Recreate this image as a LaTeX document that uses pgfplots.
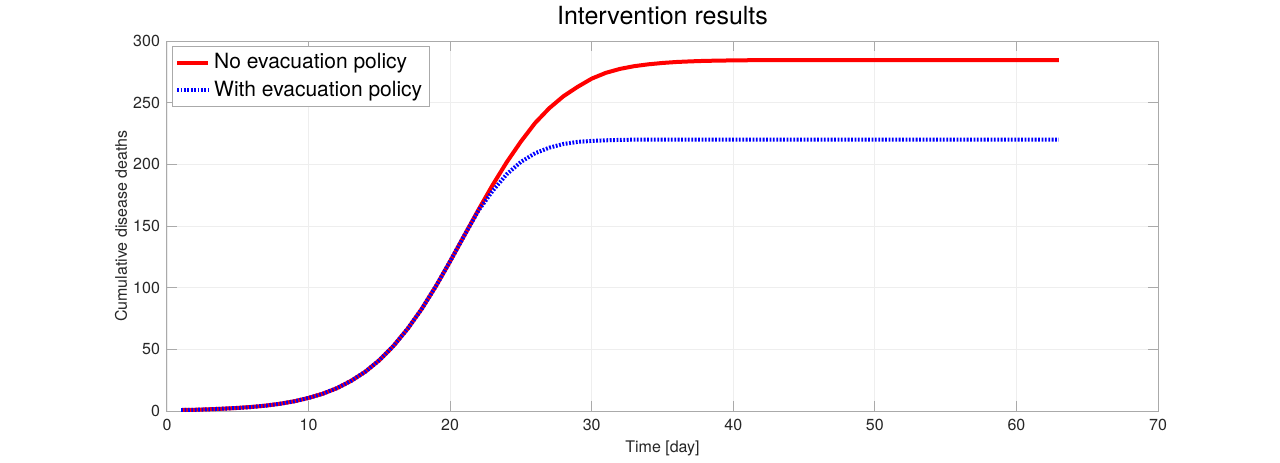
\documentclass[border=0pt]{standalone}
\usepackage{fontspec}
\setmainfont{TeX Gyre Heros}
\usepackage{pgfplots}
\pgfplotsset{compat=1.18}

\definecolor{axgray}{RGB}{170,170,170}
\definecolor{gridgray}{RGB}{238,238,238}
\definecolor{txt}{RGB}{38,38,38}

\begin{document}
\begin{tikzpicture}
\begin{axis}[
    scale only axis,
    width=495.5pt,
    height=185pt,
    at={(0,0)},
    anchor=origin,
    xmin=0, xmax=70,
    ymin=0, ymax=300,
    xtick={0,10,...,70},
    ytick={0,50,...,300},
    grid=major,
    major grid style={gridgray, line width=0.4pt},
    axis line style={axgray, line width=0.5pt},
    tick style={axgray, line width=0.5pt},
    tick align=inside,
    major tick length=5pt,
    /pgf/number format/assume math mode=true,
    tick label style={font=\fontsize{8}{9.6}\selectfont, text=txt},
    xticklabel style={anchor=base, yshift=-9.5pt},
    title={Intervention results},
    title style={font=\fontsize{12.5}{15}\selectfont, at={(axis description cs:0.5,1.0135)}, anchor=base, yshift=0pt},
    xlabel={Time [day]},
    xlabel style={font=\fontsize{8}{9.6}\selectfont, text=txt, at={(axis description cs:0.5,-0.111)}, anchor=base},
    ylabel={Cumulative disease deaths},
    ylabel style={font=\fontsize{8}{9.6}\selectfont, text=txt, at={(axis description cs:-0.0404,0.5)}, anchor=base},
    legend cell align=left,
    legend style={at={(axis description cs:0,1)}, anchor=north west, xshift=2.4pt, yshift=-2.5pt,
        draw=axgray, fill=white, font=\fontsize{10.5}{12.6}\selectfont,
        inner xsep=1.5pt, inner ysep=1.5pt, row sep=0.5pt},
    legend image code/.code={\draw[#1] (0pt,0pt) -- (15.5pt,0pt);},
]
\addplot[red, line width=2pt] coordinates {
(1,0.8) (2,1.0) (3,1.4) (4,1.9) (5,2.5) (6,3.3) (7,4.4) (8,5.9) (9,7.9) (10,10.6)
(11,14.0) (12,18.5) (13,24.4) (14,31.8) (15,41.2) (16,52.8) (17,66.7) (18,82.9) (19,101.3) (20,121.4)
(21,142.3) (22,163.1) (23,183.2) (24,201.8) (25,218.5) (26,233.5) (27,245.5) (28,255.2) (29,262.8) (30,269.5)
(31,274.2) (32,277.4) (33,279.6) (34,281.1) (35,282.2) (36,283.0) (37,283.5) (38,283.9) (39,284.1) (40,284.3)
(41,284.4) (42,284.5) (43,284.5) (44,284.5) (45,284.5) (46,284.5) (47,284.5) (48,284.5) (49,284.5) (50,284.5)
(51,284.5) (52,284.5) (53,284.5) (54,284.5) (55,284.5) (56,284.5) (57,284.5) (58,284.5) (59,284.5) (60,284.5)
(61,284.5) (62,284.5) (63,284.5)
};
\addlegendentry{No evacuation policy}
\addplot[blue, line width=2pt, dash pattern=on 0.9pt off 0.8pt] coordinates {
(1,0.8) (2,1.0) (3,1.4) (4,1.9) (5,2.5) (6,3.3) (7,4.4) (8,5.9) (9,7.9) (10,10.6)
(11,14.0) (12,18.5) (13,24.4) (14,31.8) (15,41.2) (16,52.8) (17,66.7) (18,82.9) (19,101.3) (20,121.4)
(21,142.3) (22,162.5) (23,178.5) (24,192.0) (25,202.0) (26,209.0) (27,213.5) (28,216.5) (29,218.2) (30,219.0)
(31,219.5) (32,219.8) (33,220.0) (34,220.0) (35,220.0) (36,220.0) (37,220.0) (38,220.0) (39,220.0) (40,220.0)
(41,220.0) (42,220.0) (43,220.0) (44,220.0) (45,220.0) (46,220.0) (47,220.0) (48,220.0) (49,220.0) (50,220.0)
(51,220.0) (52,220.0) (53,220.0) (54,220.0) (55,220.0) (56,220.0) (57,220.0) (58,220.0) (59,220.0) (60,220.0)
(61,220.0) (62,220.0) (63,220.0)
};
\addlegendentry{With evacuation policy}
\end{axis}
\pgfresetboundingbox
\path[use as bounding box] (-83.5pt,-25.5pt) rectangle (556.5pt,205.5pt);
\end{tikzpicture}
\end{document}
